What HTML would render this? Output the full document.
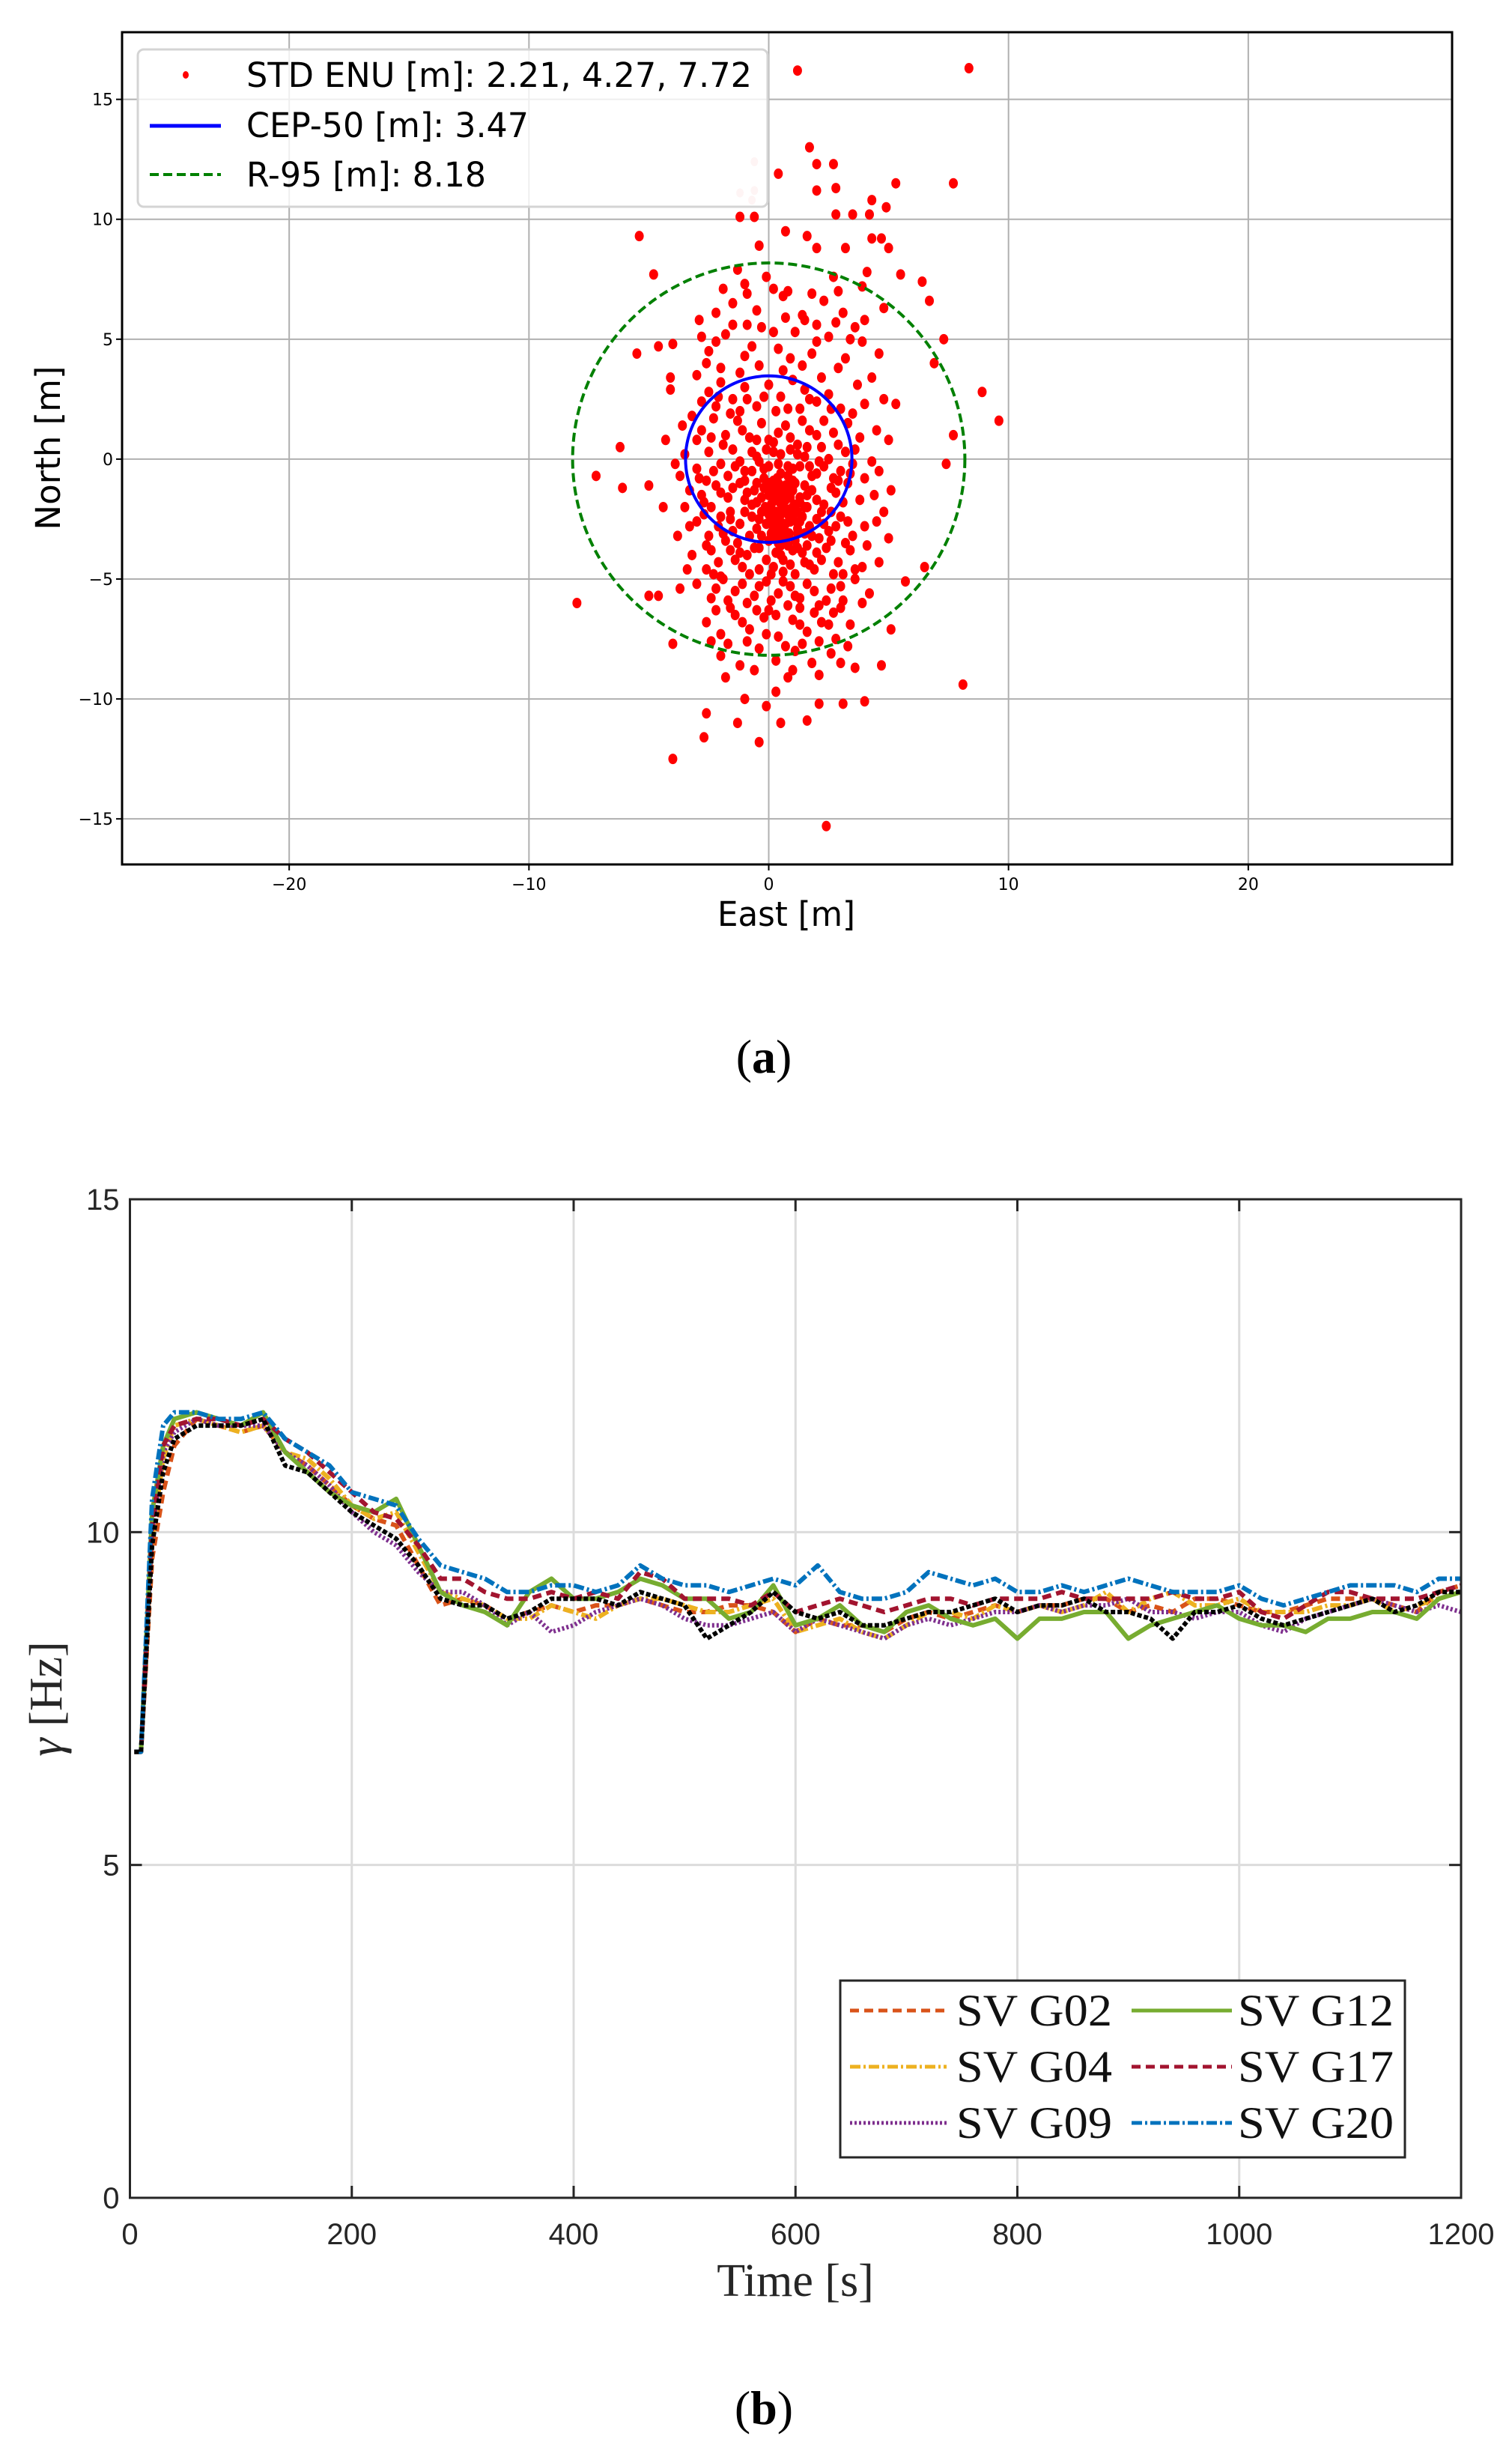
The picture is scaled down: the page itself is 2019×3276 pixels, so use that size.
<!DOCTYPE html>
<html><head><meta charset="utf-8">
<style>
html,body{margin:0;padding:0;background:#fff;}
svg{display:block;}
</style></head>
<body>
<svg id="fig" width="2019" height="3276" viewBox="0 0 2019 3276" xmlns="http://www.w3.org/2000/svg">
  <rect x="0" y="0" width="2019" height="3276" fill="#fff"/>
  <g id="chartA"></g>
  <g id="chartB"></g>
  <text x="1020" y="1432" font-family="'Liberation Serif',serif" font-size="64" text-anchor="middle">(<tspan font-weight="bold">a</tspan>)</text>
  <text x="1020" y="3236" font-family="'Liberation Serif',serif" font-size="64" text-anchor="middle">(<tspan font-weight="bold">b</tspan>)</text>
</svg>
<script>
// ===== Chart A data =====
const eastTicks = [-20, -10, 0, 10, 20];
const northTicks = [-15, -10, -5, 0, 5, 10, 15];
const cep50 = 3.47;
const r95 = 8.18;
const fadedPts = [[-0.6,12.4],[-1.2,11.1],[-0.6,11.2],[-0.7,10.8]];
const scatterPts = [
[1.2,16.2],[8.35,16.3],[1.7,13.0],[0.4,11.9],[2.0,12.3],[2.7,12.3],[7.7,11.5],[5.3,11.5],[2.8,11.3],[2.0,11.2],
[-1.2,10.1],[-0.6,10.1],[0.7,9.5],[-5.4,9.3],[4.3,10.8],[4.9,10.5],[2.8,10.2],[3.5,10.2],[4.2,10.2],[1.6,9.3],
[4.3,9.2],[4.7,9.2],[5.0,8.8],[3.2,8.8],[2.0,8.8],[-0.4,8.9],[-4.8,7.7],[-1.9,7.1],[-1.0,7.3],[-0.1,7.6],
[0.8,7.0],[4.1,7.8],[5.5,7.7],[6.4,7.4],[6.7,6.6],[8.9,2.8],[9.6,1.6],[7.3,5.0],[6.9,4.0],[7.7,1.0],
[7.4,-0.2],[-5.5,4.4],[-6.2,0.5],[-7.2,-0.7],[-8.0,-6.0],[-4.0,-12.5],[-2.7,-11.6],[-2.6,-10.6],[-0.4,-11.8],[2.4,-15.3],
[8.1,-9.4],[6.5,-4.5],[5.7,-5.1],[5.1,-7.1],[4.7,-8.6],[4.0,-10.1],[3.1,-10.2],[2.1,-10.2],[1.6,-10.9],[0.5,-11.0],
[-0.1,-10.3],[-1.0,-10.0],[-1.3,-11.0],[-1.8,-9.1],[-4.0,-7.7],[-5.0,-5.7],[-4.6,-5.7],[-6.1,-1.2],[-5.0,-1.1],[-4.4,-2.0],
[-4.3,0.8],[-4.1,2.9],[-4.1,3.4],[-4.6,4.7],[-4.0,4.8],[-2.8,5.1],[-2.2,4.9],[3.6,-8.7],[3.0,-8.5],[2.1,-9.0],
[1.0,-8.8],[0.3,-9.7],
[-3,3.5],[-2.5,2.8],[-2,3.2],[-1.5,2.5],[-1,3.0],[-0.5,2.2],[0,3.1],[0.5,2.6],[1,3.3],[1.5,2.9],[2,2.4],[2.5,2.7],[3,2.1],[3.5,1.9],[4,2.3],[4.5,1.2],[5,0.8],
[-3.2,1.8],[-2.8,1.2],[-2.3,1.7],[-1.8,1.0],[-1.3,1.6],[-0.8,0.9],[-0.3,1.5],[0.2,0.7],[0.7,1.4],[1.2,0.6],[1.7,1.2],[2.2,0.5],[2.7,1.1],[3.2,0.3],[3.8,0.9],[4.3,-0.1],
[-3.5,0.2],[-3,-0.4],[-2.5,0.3],[-2,-0.2],[-1.5,0.4],[-1,-0.5],[-0.5,0.1],[0,-0.3],[0.5,0.2],[1,-0.4],[1.5,0.1],[2,-0.6],[2.5,0],[3,-0.5],[3.5,-0.2],[4,-0.8],
[-3.3,-1.3],[-2.7,-1.8],[-2.2,-1.1],[-1.7,-1.6],[-1.2,-1.0],[-0.7,-1.9],[-0.2,-1.2],[0.3,-1.7],[0.8,-1.1],[1.3,-1.8],[1.8,-1.3],[2.3,-1.9],[2.8,-1.4],[3.3,-1.0],[3.8,-1.7],[4.4,-1.5],
[-3,-2.6],[-2.5,-3.2],[-2,-2.4],[-1.5,-3.0],[-1,-2.2],[-0.5,-2.9],[0,-2.1],[0.5,-2.7],[1,-2.3],[1.5,-3.1],[2,-2.5],[2.5,-3.0],[3,-2.4],[3.5,-3.2],[4,-2.8],[4.8,-2.2],
[-3.2,-4.0],[-2.6,-3.6],[-2.1,-4.3],[-1.6,-3.8],[-1.1,-4.5],[-0.6,-3.7],[-0.1,-4.2],[0.4,-3.5],[0.9,-4.4],[1.4,-3.9],[1.9,-4.6],[2.4,-3.7],[2.9,-4.3],[3.4,-3.8],[3.9,-4.5],[4.6,-4.3],
[-3,-5.2],[-2.4,-5.8],[-1.9,-5.0],[-1.4,-5.5],[-0.9,-6.0],[-0.4,-5.3],[0.1,-5.9],[0.6,-5.1],[1.1,-5.7],[1.6,-5.2],[2.1,-6.1],[2.6,-5.4],[3.1,-5.9],[3.6,-5.0],[4.2,-5.6],
[-2.6,-6.8],[-2,-7.3],[-1.4,-6.5],[-0.8,-7.1],[-0.2,-6.6],[0.4,-7.4],[1,-6.7],[1.6,-7.2],[2.2,-6.8],[2.8,-7.5],[3.4,-6.9],
[-2,-8.2],[-1.2,-8.6],[-0.4,-7.9],[0.3,-8.4],[1.1,-8.0],[1.8,-8.5],[2.6,-8.1],
[-2.5,4.5],[-1.8,5.2],[-1,4.3],[-0.3,5.5],[0.4,4.6],[1.1,5.3],[1.8,4.4],[2.5,5.1],[3.2,4.2],[3.9,4.9],[4.6,4.4],
[-1.5,6.5],[-0.5,6.2],[0.6,6.8],[1.4,6.0],[2.3,6.6],[3.1,6.1],[4,5.8],[4.8,6.3],
[0,-1],[0.3,-1.5],[0.6,-2.0],[0.9,-2.6],[0.2,-2.4],[0.5,-0.6],[0.8,-1.4],[1.1,-1.9],[-0.2,-0.8],[0.4,-3.0],
[0.7,-3.3],[1.2,-2.9],[-0.3,-1.6],[0.1,-1.9],[0.6,-1.2],[1.0,-0.9],[0.3,-2.2],[0.8,-2.3],[-0.1,-2.7],[1.4,-2.4],
[0.5,-3.6],[0.2,0.3],[0.9,0.4],[-0.4,-0.1],[1.3,-0.3],[0.6,-4.2],[1.0,-3.8],[0.0,-3.4],[1.6,-1.5],[-0.6,-1.3],
[-2.2,2.2],[-1.2,2.0],[0.3,2.0],[1.3,2.1],[2.3,1.6],[-2.6,-0.9],[-1.4,-0.3],[0.2,-0.9],[1.8,-0.7],[2.9,-0.9],
[-2.4,-2.0],[-0.9,-1.4],[1.6,-2.0],[2.6,-2.2],[-1.8,-3.4],[-0.3,-3.2],[1.1,-3.4],[2.1,-3.3],[-2.3,-4.8],[-0.8,-4.8],
[0.6,-4.7],[1.7,-4.4],[3.1,-4.8],[-1.6,-6.2],[0.0,-6.3],[1.3,-6.2],[2.7,-6.4],[-0.6,-8.8],[0.8,-9.1],[3.3,-7.8],
[-2.9,5.8],[-0.9,5.6],[0.7,5.9],[2.0,5.6],[3.6,5.5],[-1.3,7.9],[2.7,7.6],[3.9,7.2],[-3.8,-3.2],[-3.7,-5.4]
];
const corePts = [
[-2.8,2.4],[-2.1,2.6],[-1.6,1.9],[-0.9,2.5],[-0.2,2.6],[0.8,2.1],[1.7,2.5],[2.6,2.1],[3.3,1.5],[-3.0,0.8],
[-2.4,0.9],[-1.9,0.6],[-1.1,1.2],[-0.5,0.8],[0.4,1.1],[0.9,0.9],[1.4,1.6],[2.0,1.0],[2.9,0.6],[3.6,0.4],
[-2.9,-0.8],[-2.3,-0.5],[-1.7,-0.7],[-1.2,-0.1],[-0.7,-0.5],[-0.1,0.4],[0.4,-0.2],[0.8,-0.7],[1.2,0.2],[1.7,-0.3],
[2.3,-0.3],[2.7,-0.8],[3.4,-0.6],[-2.8,-1.5],[-2.0,-1.4],[-1.5,-1.2],[-1.0,-1.7],[-0.5,-1.0],[0.0,-1.5],[0.4,-1.0],
[0.7,-1.7],[1.0,-1.3],[1.5,-1.1],[2.0,-1.7],[2.6,-1.2],[3.1,-1.8],[-2.7,-2.3],[-2.1,-2.8],[-1.6,-2.2],[-1.2,-2.7],
[-0.7,-2.4],[-0.3,-2.2],[0.2,-2.9],[0.5,-2.3],[0.7,-2.7],[1.0,-2.0],[1.3,-2.6],[1.7,-2.8],[2.2,-2.2],[2.8,-2.8],
[3.3,-2.6],[-2.4,-3.8],[-1.9,-3.1],[-1.3,-3.5],[-0.8,-3.2],[-0.4,-3.7],[0.1,-3.1],[0.3,-3.9],[0.8,-3.6],[1.2,-3.1],
[1.6,-3.6],[2.0,-3.9],[2.6,-3.4],[3.2,-3.5],[-2.6,-4.6],[-2.0,-4.9],[-1.4,-4.2],[-0.9,-4.0],[-0.4,-4.6],[0.2,-4.5],
[0.5,-4.0],[1.1,-4.8],[1.5,-4.3],[2.2,-4.2],[2.7,-4.8],[3.6,-4.6],[-2.2,-5.4],[-1.7,-5.9],[-1.1,-5.2],[-0.6,-5.7],
[-0.1,-5.1],[0.4,-5.6],[0.9,-5.3],[1.3,-5.8],[1.9,-5.5],[2.4,-5.9],[3.0,-5.3],[-2.2,-6.3],[-1.1,-6.8],[-0.5,-6.3],
[0.3,-6.5],[0.8,-6.1],[1.3,-6.9],[1.9,-6.4],[2.5,-6.9],[-1.7,-7.7],[-0.9,-7.6],[-0.1,-7.3],[0.7,-7.8],[1.4,-7.7],
[2.1,-7.6],[-2.4,-7.6],[3.0,-6.2],[3.9,-6.0],[-3.4,-4.6],[-3.5,-2.0],[-3.7,-0.7],[4.1,-3.6],[4.5,-2.6],[4.6,-0.5],
[0.1,-1.2],[0.35,-1.3],[0.55,-1.6],[0.75,-2.1],[0.95,-2.3],[0.2,-1.75],[0.45,-2.5],[0.65,-2.95],[0.85,-3.1],[1.05,-2.55],
[0.1,-2.6],[-0.15,-2.0],[0.3,-2.75],[1.2,-2.2],[0.5,-1.85],[0.7,-1.1],[0.15,-3.2],[0.9,-1.6],[1.3,-1.6],[-0.4,-2.5],
[0.55,-3.3],[0.35,-0.8],[0.8,-0.3],[-0.2,-0.4],[1.1,-1.0],[-0.5,-1.8],[1.5,-2.0],[0.0,-2.3],[0.4,-3.4],[1.2,-3.7],
[-1.0,-0.9],[-0.7,0.3],[0.0,0.8],[1.6,0.5],[2.1,-0.1],[-1.6,-2.5],[2.3,-2.7],[-1.2,-3.9],[1.8,-3.2],[0.1,-4.8],
[-2.0,3.8],[-1.2,3.6],[-0.4,3.9],[0.6,3.7],[1.4,3.9],[2.2,3.4],[2.9,3.8],[3.7,3.1],[-2.6,4.0],[-0.7,4.7],
[0.9,4.2],[2.0,4.9],[3.4,5.0],[-1.5,5.6],[0.2,5.3],[1.5,5.8],[2.8,5.7],[-0.9,6.9],[0.2,7.1],[1.8,6.9],
[2.9,7.0],[-2.2,6.1],[4.3,3.4],[4.8,2.5],[5.3,2.3],[5.1,-1.3],[5.0,-3.3],[-3.9,-0.2],[-3.6,1.4],[-3.3,-2.8]
];
// ===== Chart B data =====
const times = [4,10,20,30,40,60,80,100,120,140,160,180,200,220,240,260,280,300,320,340,360,380,400,420,440,460,480,500,520,540,560,580,600,620,640,660,680,700,720,740,760,780,800,820,840,860,880,900,920,940,960,980,1000,1020,1040,1060,1080,1100,1120,1140,1160,1180,1200];
const xTicksB = [0,200,400,600,800,1000,1200];
const yTicksB = [0,5,10,15];
const g02 = [6.7,6.7,9.6,10.6,11.3,11.7,11.6,11.5,11.6,11.2,11.0,10.7,10.4,10.2,10.1,9.5,8.9,9.0,8.9,8.7,8.8,8.9,8.8,8.9,8.9,9.0,8.9,8.8,8.8,8.9,8.9,8.8,8.5,8.7,8.6,8.6,8.5,8.7,8.8,8.7,8.8,8.9,8.8,8.9,8.9,9.0,9.0,8.8,8.9,8.8,9.0,9.0,8.9,8.8,8.8,8.9,9.0,9.0,9.0,8.9,8.8,9.1,9.2];
const g04 = [6.7,6.7,9.9,11.1,11.6,11.7,11.6,11.5,11.6,11.2,11.1,10.8,10.4,10.2,10.3,9.7,9.1,9.0,8.9,8.7,8.7,8.9,8.8,8.7,8.9,9.0,9.0,8.9,8.8,8.8,8.9,9.0,8.5,8.6,8.7,8.5,8.4,8.6,8.8,8.8,8.7,8.9,8.8,8.9,8.8,8.9,9.1,8.8,9.0,9.1,8.9,8.9,9.0,8.8,8.8,8.8,8.9,8.9,9.0,8.8,8.9,9.0,9.1];
const g09 = [6.7,6.7,10.0,11.2,11.5,11.7,11.6,11.6,11.6,11.2,11.0,10.7,10.3,10.0,9.8,9.4,9.1,9.1,8.9,8.6,8.8,8.5,8.6,8.8,8.9,9.0,8.9,8.7,8.6,8.6,8.7,8.8,8.5,8.7,8.6,8.5,8.4,8.6,8.7,8.6,8.7,8.8,8.8,8.9,8.8,8.9,8.9,9.0,8.8,8.8,8.7,8.8,8.8,8.6,8.5,8.7,8.8,8.9,9.0,8.9,8.8,8.9,8.8];
const g12 = [6.7,6.7,10.3,11.3,11.7,11.8,11.7,11.6,11.8,11.2,10.9,10.6,10.4,10.3,10.5,9.8,9.1,8.9,8.8,8.6,9.1,9.3,9.0,9.0,9.1,9.3,9.2,9.0,9.0,8.7,8.8,9.2,8.6,8.7,8.9,8.6,8.5,8.8,8.9,8.7,8.6,8.7,8.4,8.7,8.7,8.8,8.8,8.4,8.6,8.7,8.8,8.9,8.7,8.6,8.6,8.5,8.7,8.7,8.8,8.8,8.7,9.0,9.1];
const g17 = [6.7,6.7,10.1,11.3,11.6,11.7,11.7,11.6,11.7,11.4,11.2,10.9,10.6,10.3,10.2,9.8,9.3,9.3,9.1,9.0,9.0,9.1,9.0,9.1,9.0,9.4,9.3,9.0,9.0,9.0,8.9,9.1,8.8,8.9,9.0,8.9,8.8,8.9,9.0,9.0,8.9,9.0,9.0,9.0,9.1,9.0,9.0,9.0,9.0,9.1,9.0,9.0,9.1,8.8,8.7,8.9,9.1,9.1,9.0,9.0,9.0,9.1,9.2];
const g20 = [6.7,6.7,10.5,11.6,11.8,11.8,11.7,11.7,11.8,11.4,11.2,11.0,10.6,10.5,10.4,9.9,9.5,9.4,9.3,9.1,9.1,9.2,9.2,9.1,9.2,9.5,9.3,9.2,9.2,9.1,9.2,9.3,9.2,9.5,9.1,9.0,9.0,9.1,9.4,9.3,9.2,9.3,9.1,9.1,9.2,9.1,9.2,9.3,9.2,9.1,9.1,9.1,9.2,9.0,8.9,9.0,9.1,9.2,9.2,9.2,9.1,9.3,9.3];
const gBlack = [6.7,6.7,9.8,10.9,11.4,11.6,11.6,11.6,11.7,11.0,10.9,10.6,10.3,10.1,9.9,9.5,9.0,8.9,8.9,8.7,8.8,9.0,9.0,9.0,8.9,9.1,9.0,8.9,8.4,8.6,8.8,9.1,8.8,8.7,8.8,8.6,8.6,8.7,8.8,8.8,8.9,9.0,8.8,8.9,8.9,9.0,8.8,8.8,8.7,8.4,8.8,8.8,8.9,8.7,8.6,8.7,8.8,8.9,9.0,8.8,8.9,9.1,9.1];

const NS = 'http://www.w3.org/2000/svg';
function mk(tag, attrs, parent) {
  const e = document.createElementNS(NS, tag);
  for (const k in attrs) e.setAttribute(k, attrs[k]);
  parent.appendChild(e);
  return e;
}

// ===== Chart A =====
(function () {
  const g = document.getElementById('chartA');
  const L = 163, R = 1939, T = 43, B = 1154;
  const xmin = -26.97, xmax = 28.5, ymin = -16.9, ymax = 17.8;
  const xs = v => L + (v - xmin) / (xmax - xmin) * (R - L);
  const ys = v => B - (v - ymin) / (ymax - ymin) * (B - T);
  const font = "'DejaVu Sans',sans-serif";
  eastTicks.forEach(t => {
    const l = mk('line', {x1: xs(t), x2: xs(t), y1: T, y2: B, stroke: '#b0b0b0', 'stroke-width': 2}, g);
    
    
    const tk = mk('line', {x1: xs(t), x2: xs(t), y1: B, y2: B + 8, stroke: '#000', 'stroke-width': 2}, g);
    
    
    const tx = mk('text', {x: xs(t), y: B + 34, 'font-family': font, 'font-size': 22, 'text-anchor': 'middle'}, g);
    tx.textContent = (t < 0 ? '\u2212' : '') + Math.abs(t);
    
    
  });
  northTicks.forEach(t => {
    const l = mk('line', {x1: L, x2: R, y1: ys(t), y2: ys(t), stroke: '#b0b0b0', 'stroke-width': 2}, g);
    
    
    const tk = mk('line', {x1: L - 8, x2: L, y1: ys(t), y2: ys(t), stroke: '#000', 'stroke-width': 2}, g);
    
    
    const tx = mk('text', {x: L - 12, y: ys(t) + 8, 'font-family': font, 'font-size': 22, 'text-anchor': 'end'}, g);
    tx.textContent = (t < 0 ? '\u2212' : '') + Math.abs(t);
    
    
  });
  fadedPts.forEach(p => {
    const c = mk('ellipse', {cx: xs(p[0]), cy: ys(p[1]), rx: 5, ry: 6, fill: '#f8c8c8'}, g);
    
    
  });
  scatterPts.concat(corePts).forEach(p => {
    const c = mk('ellipse', {cx: xs(p[0]), cy: ys(p[1]), rx: 6, ry: 7, fill: '#ff0000'}, g);
    
    
  });
  const sx = (xs(1) - xs(0)), sy = (ys(0) - ys(1));
  const c1 = mk('ellipse', {cx: xs(0), cy: ys(0), rx: cep50 * sx, ry: cep50 * sy, fill: 'none', stroke: '#0000ff', 'stroke-width': 4}, g);
  
  
  const c2 = mk('ellipse', {cx: xs(0), cy: ys(0), rx: r95 * sx, ry: r95 * sy, fill: 'none', stroke: '#008000', 'stroke-width': 4, 'stroke-dasharray': '12 6'}, g);
  
  
  const frame = mk('rect', {x: L, y: T, width: R - L, height: B - T, fill: 'none', stroke: '#000', 'stroke-width': 3}, g);
  
  
  // legend
  const lg = mk('g', {}, g);
  
  
  mk('rect', {x: 184, y: 66, width: 841, height: 210, rx: 8, fill: '#fff', 'fill-opacity': 0.8, stroke: '#d4d4d4', 'stroke-width': 3}, lg);
  const e1 = mk('ellipse', {cx: 248, cy: 100, rx: 4, ry: 5, fill: '#ff0000'}, lg);
  
  
  const e2 = mk('line', {x1: 200, x2: 295, y1: 168, y2: 168, stroke: '#0000ff', 'stroke-width': 5}, lg);
  
  
  const e3 = mk('line', {x1: 200, x2: 295, y1: 233, y2: 233, stroke: '#008000', 'stroke-width': 4, 'stroke-dasharray': '12 6'}, lg);
  
  
  const labels = [['STD ENU [m]: 2.21, 4.27, 7.72', 116, 675], ['CEP-50 [m]: 3.47', 183, 377], ['R-95 [m]: 8.18', 249, 320]];
  labels.forEach(a => {
    const t = mk('text', {x: 329, y: a[1], 'font-family': font, 'font-size': 45, textLength: a[2], lengthAdjust: 'spacingAndGlyphs'}, lg);
    t.textContent = a[0];
    
    
  });
  const xl = mk('text', {x: 958, y: 1236, 'font-family': font, 'font-size': 45, textLength: 184, lengthAdjust: 'spacingAndGlyphs'}, g);
  xl.textContent = 'East [m]';
  
  
  const yl = mk('text', {x: 0, y: 0, 'font-family': font, 'font-size': 45, 'text-anchor': 'middle', transform: 'translate(80,598) rotate(-90)'}, g);
  yl.textContent = 'North [m]';
  
  
})();

// ===== Chart B =====
(function () {
  const g = document.getElementById('chartB');
  const L = 173.5, R = 1951, T = 1601, B = 2934;
  const xs = v => L + v / 1200 * (R - L);
  const ys = v => B - v / 15 * (B - T);
  const sans = "'Liberation Sans',sans-serif", serif = "'Liberation Serif',serif";
  xTicksB.forEach(t => {
    const l = mk('line', {x1: xs(t), x2: xs(t), y1: T, y2: B, stroke: '#dcdcdc', 'stroke-width': 3}, g);
    
    
    const tx = mk('text', {x: xs(t), y: B + 62, 'font-family': sans, 'font-size': 40, 'text-anchor': 'middle', fill: '#262626'}, g);
    tx.textContent = t;
    
    
    mk('line', {x1: xs(t), x2: xs(t), y1: B, y2: B - 16, stroke: '#262626', 'stroke-width': 3}, g);
    mk('line', {x1: xs(t), x2: xs(t), y1: T, y2: T + 16, stroke: '#262626', 'stroke-width': 3}, g);
  });
  yTicksB.forEach(t => {
    const l = mk('line', {x1: L, x2: R, y1: ys(t), y2: ys(t), stroke: '#dcdcdc', 'stroke-width': 3}, g);
    
    
    const tx = mk('text', {x: L - 14, y: ys(t) + 14, 'font-family': sans, 'font-size': 40, 'text-anchor': 'end', fill: '#262626'}, g);
    tx.textContent = t;
    
    
    mk('line', {x1: L, x2: L + 16, y1: ys(t), y2: ys(t), stroke: '#262626', 'stroke-width': 3}, g);
    mk('line', {x1: R, x2: R - 16, y1: ys(t), y2: ys(t), stroke: '#262626', 'stroke-width': 3}, g);
  });
  const series = [
    ['series-g02', g02, '#D95319', '12 7'],
    ['series-g04', g04, '#EDB120', '14 4 3 4'],
    ['series-g09', g09, '#7E2F8E', '3 3'],
    ['series-g12', g12, '#77AC30', ''],
    ['series-g17', g17, '#A2142F', '12 7'],
    ['series-g20', g20, '#0072BD', '14 4 3 4'],
    ['series-black', gBlack, '#000000', '6 3']
  ];
  series.forEach(s => {
    const d = times.map((t, i) => (i ? 'L' : 'M') + xs(t).toFixed(1) + ',' + ys(s[1][i]).toFixed(1)).join(' ');
    const p = mk('path', {d: d, fill: 'none', stroke: s[2], 'stroke-width': 6, 'stroke-dasharray': s[3], 'stroke-linejoin': 'round'}, g);
    
    
  });
  const frame = mk('rect', {x: L, y: T, width: R - L, height: B - T, fill: 'none', stroke: '#262626', 'stroke-width': 3}, g);
  
  
  // legend
  const lg = mk('g', {}, g);
  
  
  mk('rect', {x: 1122, y: 2644, width: 754, height: 236, fill: '#fff', stroke: '#262626', 'stroke-width': 3}, lg);
  const entries = [
    ['SV  G02', 0, 0], ['SV  G04', 0, 1], ['SV  G09', 0, 2],
    ['SV  G12', 1, 0], ['SV  G17', 1, 1], ['SV  G20', 1, 2]
  ];
  entries.forEach((e, i) => {
    const s = series[i];
    const x0 = e[1] ? 1511 : 1135, x1 = e[1] ? 1645 : 1264, tx0 = e[1] ? 1653 : 1277;
    const y = 2684 + e[2] * 75;
    const ln = mk('line', {x1: x0, x2: x1, y1: y, y2: y, stroke: s[2], 'stroke-width': 5, 'stroke-dasharray': s[3]}, lg);
    
    
    const t = mk('text', {x: tx0, y: y + 20, 'font-family': serif, 'font-size': 60, textLength: 208, lengthAdjust: 'spacingAndGlyphs', fill: '#111'}, lg);
    t.textContent = e[0];
    
    
  });
  const xl = mk('text', {x: 1062, y: 3065, 'font-family': serif, 'font-size': 62, 'text-anchor': 'middle', fill: '#262626'}, g);
  xl.textContent = 'Time [s]';
  
  
  const yl = mk('text', {x: 0, y: 0, 'font-family': serif, 'font-size': 62, 'text-anchor': 'middle', fill: '#262626', transform: 'translate(82,2268) rotate(-90)'}, g);
  yl.innerHTML = '<tspan font-style="italic">\u03b3</tspan> [Hz]';
  
  
})();
</script>
</body></html>
